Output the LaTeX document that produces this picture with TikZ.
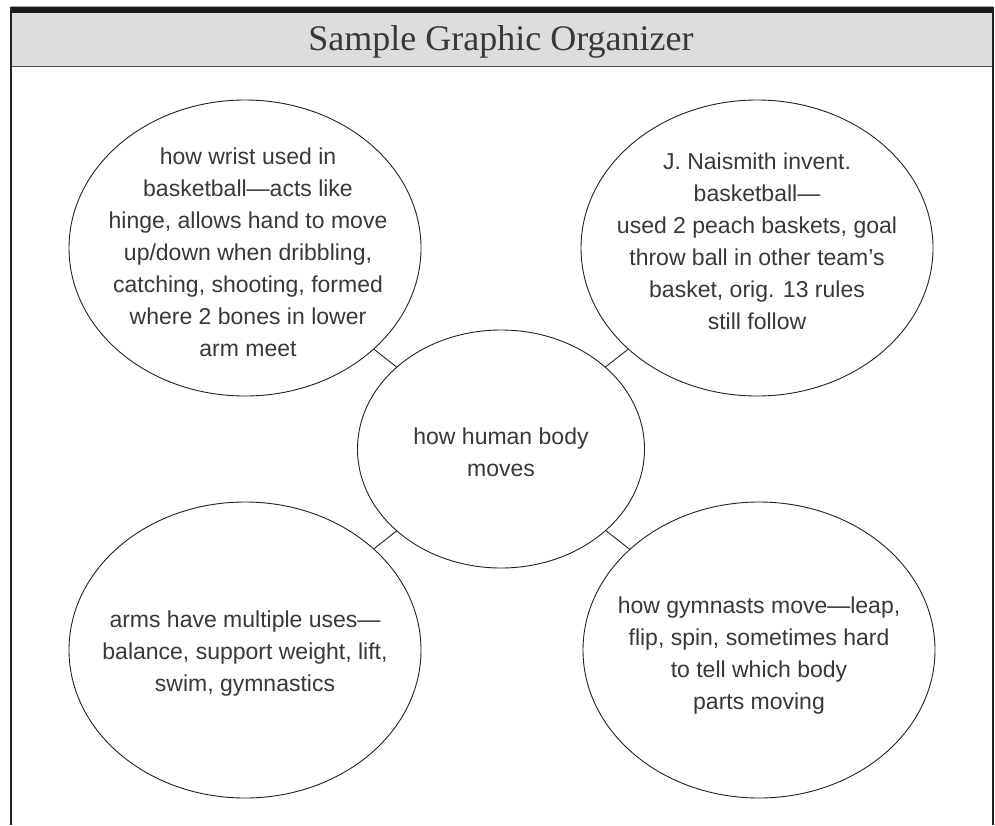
\documentclass[tikz,border=0pt]{standalone}
\usepackage{fontspec}
\setmainfont{Liberation Sans}
\newfontfamily\headfont{Liberation Serif}
\usetikzlibrary{shapes.geometric}
\definecolor{hdrgray}{HTML}{DCDDDF}
\definecolor{inkgray}{HTML}{383838}
\definecolor{linegray}{HTML}{222222}
\tikzset{
  bubble/.style={draw=linegray, line width=0.9pt, ellipse, inner sep=0pt, outer sep=0pt,
                 minimum width=352pt, minimum height=296pt},
  hub/.style={bubble, minimum width=287pt, minimum height=238pt},
  txt/.style={align=center, text=inkgray, inner sep=0pt,
              font=\fontsize{23}{32}\selectfont},
  link/.style={draw=linegray, line width=0.9pt},
  frameline/.style={draw=linegray, line width=1.2pt}
}
\begin{document}
\begin{tikzpicture}[x=1pt, y=-1pt]
\useasboundingbox (0,0) rectangle (995,825);
% header
\fill[hdrgray] (11,13) rectangle (993,66.5);
\fill[black!90] (11,6.5) rectangle (993,13);
\draw[black!35, line width=0.6pt] (11,6) -- (993,6);
\draw[draw=black!70, line width=1pt] (11,66.5) -- (993,66.5);
\draw[frameline] (11,6.5) -- (11,825);
\draw[frameline] (993,6.5) -- (993,825);
\node[font=\headfont\fontsize{36}{40}\selectfont, text=inkgray, anchor=base] (title) at (501,50) {Sample Graphic Organizer};
% bubbles
\node[hub] (c) at (501,449) {};
\node[bubble] (tl) at (245,248) {};
\node[bubble] (tr) at (757,248) {};
\node[bubble] (bl) at (245,650) {};
\node[bubble] (br) at (759,650) {};
% links
\draw[link] (c) -- (tl);
\draw[link] (c) -- (tr);
\draw[link] (c) -- (bl);
\draw[link] (c) -- (br);
% texts
\node[txt] (ct) at (501,452) {how human body\\moves};
\node[txt] (tlt) at (248,252) {how wrist used in\\basketball—acts like\\hinge, allows hand to move\\up/down when dribbling,\\catching, shooting, formed\\where 2 bones in lower\\arm meet};
\node[txt] (trt) at (757,241) {J. Naismith invent.\\basketball—\\used 2 peach baskets, goal\\throw ball in other team’s\\basket, orig. 13 rules\\still follow};
\node[txt] (blt) at (245,654) {arms have multiple uses—\\balance, support weight, lift,\\swim, gymnastics};
\node[txt] (brt) at (759,656) {how gymnasts move—leap,\\flip, spin, sometimes hard\\to tell which body\\parts moving};
\end{tikzpicture}
\end{document}
